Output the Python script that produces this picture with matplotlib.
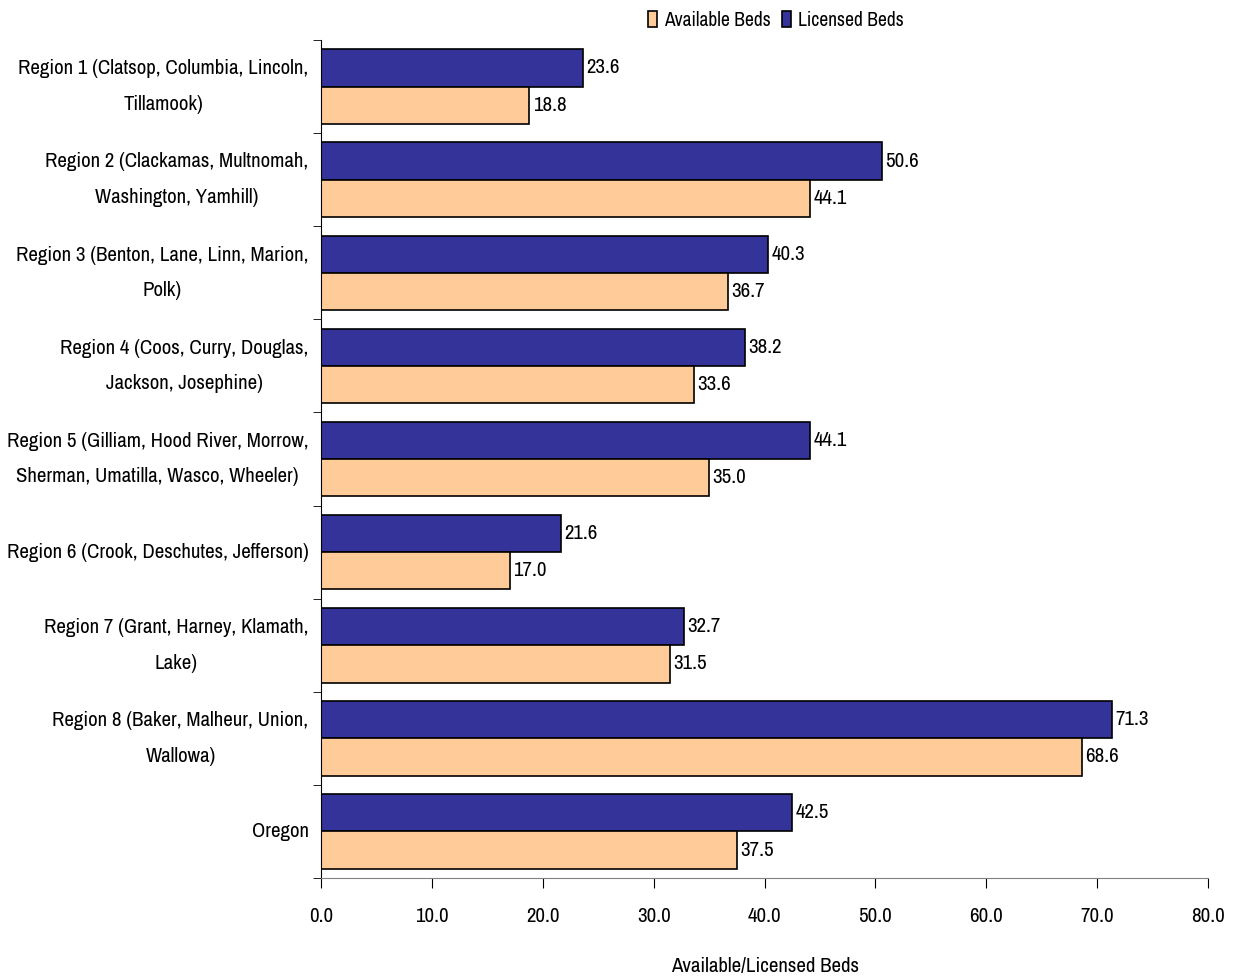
import numpy as np
import matplotlib
matplotlib.use("Agg")
import matplotlib.pyplot as plt

plt.rcParams['font.family'] = ['Archivo Narrow', 'DejaVu Sans']

regions = [
    "Region 1 (Clatsop, Columbia, Lincoln,\nTillamook)",
    "Region 2 (Clackamas, Multnomah,\nWashington, Yamhill)",
    "Region 3 (Benton, Lane, Linn, Marion,\nPolk)",
    "Region 4 (Coos, Curry, Douglas,\nJackson, Josephine)",
    "Region 5 (Gilliam, Hood River, Morrow,\nSherman, Umatilla, Wasco, Wheeler)",
    "Region 6 (Crook, Deschutes, Jefferson)",
    "Region 7 (Grant, Harney, Klamath,\nLake)",
    "Region 8 (Baker, Malheur, Union,\nWallowa)",
    "Oregon",
]
available = [18.8, 44.1, 36.7, 33.6, 35.0, 17.0, 31.5, 68.6, 37.5]
licensed = [23.6, 50.6, 40.3, 38.2, 44.1, 21.6, 32.7, 71.3, 42.5]

avail_color = "#FFCC99"
lic_color = "#333399"
fs = 15

fig = plt.figure(figsize=(12.38, 9.77), dpi=100)
ax = fig.add_axes([0.2593, 0.1013, 0.7165, 0.8577])

y = np.arange(len(regions))
h = 0.4
lic_bars = ax.barh(y - h / 2, licensed, height=h, color=lic_color,
                   edgecolor="black", linewidth=1.2, label="Licensed Beds")
av_bars = ax.barh(y + h / 2, available, height=h, color=avail_color,
                  edgecolor="black", linewidth=1.2, label="Available Beds")

# value labels at the end of each bar
for bars, vals in ((lic_bars, licensed), (av_bars, available)):
    for b, v in zip(bars, vals):
        ax.text(v + 0.3, b.get_y() + b.get_height() / 2, f"{v:.1f}",
                va="center", ha="left", fontsize=fs)

ax.set_ylim(len(regions) - 0.5, -0.5)
ax.set_xlim(0, 80)
ax.set_xticks(np.arange(0, 81, 10))
ax.set_xticklabels([f"{t:.1f}" for t in np.arange(0, 81, 10)], fontsize=fs)
ax.set_yticks(y)
ax.set_yticklabels(regions, fontsize=fs, linespacing=2.1,
                   multialignment="center", va="center")
ax.tick_params(axis="y", length=0, pad=9)
ax.set_yticks(np.arange(len(regions) + 1) - 0.5, minor=True)
ax.tick_params(axis="y", which="minor", length=6, direction="out")
ax.tick_params(axis="x", length=7, direction="out", pad=14)

for side in ("top", "right"):
    ax.spines[side].set_visible(False)
ax.spines["bottom"].set_color("#808080")
ax.spines["left"].set_color("black")

ax.set_xlabel("Available/Licensed Beds", fontsize=fs, labelpad=22)

handles = [av_bars, lic_bars]
ax.legend(handles, ["Available Beds", "Licensed Beds"], loc="center",
          bbox_to_anchor=(776 / 1238, 1 - 20 / 977), bbox_transform=fig.transFigure,
          ncol=2, frameon=False, fontsize=14,
          handlelength=0.45, handleheight=0.85, handletextpad=0.35,
          columnspacing=0.6, borderaxespad=0, borderpad=0)

fig.savefig("out.png", dpi=100)
